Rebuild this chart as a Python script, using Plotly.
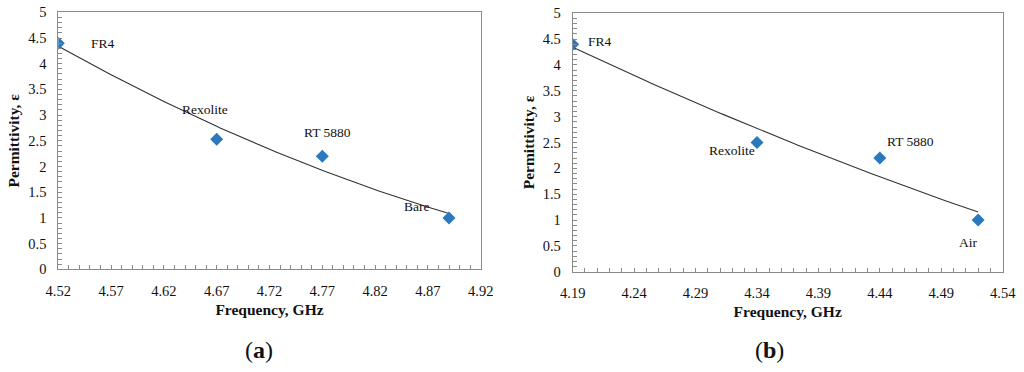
import numpy as np
import plotly.graph_objects as go
from plotly.subplots import make_subplots

# ---- data ----
materials_a = ["FR4", "Rexolite", "RT 5880", "Bare"]
freq_a = [4.52, 4.67, 4.77, 4.89]
perm_a = [4.4, 2.53, 2.2, 1.0]

materials_b = ["FR4", "Rexolite", "RT 5880", "Air"]
freq_b = [4.19, 4.34, 4.44, 4.52]
perm_b = [4.4, 2.5, 2.2, 1.0]

xticks_a = [4.52, 4.57, 4.62, 4.67, 4.72, 4.77, 4.82, 4.87, 4.92]
xticks_b = [4.19, 4.24, 4.29, 4.34, 4.39, 4.44, 4.49, 4.54]
yticks = [0, 0.5, 1, 1.5, 2, 2.5, 3, 3.5, 4, 4.5, 5]
ytick_text = ["0", "0.5", "1", "1.5", "2", "2.5", "3", "3.5", "4", "4.5", "5"]

FONT = "Liberation Serif"
MARKER = "#2A79BC"
AXIS = "#8A8A8A"

W, H = 1024, 372


def dx(px):
    return px / W


def dy(py):
    return (H - py) / H


fig = make_subplots(rows=1, cols=2)


def trend(xs, ys, deg):
    c = np.polyfit(xs, ys, deg)
    xx = np.linspace(min(xs), max(xs), 100)
    return xx, np.polyval(c, xx)


for col, (fx, py, deg) in enumerate([(freq_a, perm_a, 2), (freq_b, perm_b, 2)], start=1):
    tx, ty = trend(fx, py, deg)
    fig.add_trace(go.Scatter(x=tx, y=ty, mode="lines",
                             line=dict(color="#333333", width=1.1),
                             hoverinfo="skip", showlegend=False), row=1, col=col)
    fig.add_trace(go.Scatter(x=fx, y=py, mode="markers",
                             marker=dict(symbol="diamond", size=10, color=MARKER),
                             showlegend=False), row=1, col=col)

# label offsets (pixels) relative to each point
offs_a = [(45, 0), (-12, 30), (5, 24), (-33, 11)]
offs_b = [(27, 3), (-25, -8), (31, 17), (-10, -22)]
for names, fx, py, offs, xr, yr in [
    (materials_a, freq_a, perm_a, offs_a, "x", "y"),
    (materials_b, freq_b, perm_b, offs_b, "x2", "y2"),
]:
    for n, xv, yv, (ox, oy) in zip(names, fx, py, offs):
        fig.add_annotation(x=xv, y=yv, xref=xr, yref=yr, text=n, showarrow=False,
                           xshift=ox, yshift=oy,
                           font=dict(family=FONT, size=13.5, color="#111111"))

axis_common = dict(showline=True, linecolor=AXIS, linewidth=1, mirror=True,
                   showgrid=False, zeroline=False, automargin=False,
                   ticks="inside", ticklen=4, tickcolor=AXIS,
                   tickfont=dict(family=FONT, size=14.5, color="#111111"),
                   ticklabelstandoff=8, ticklabeloverflow="allow")

fig.update_xaxes(**axis_common)
fig.update_yaxes(**axis_common)

fig.update_xaxes(range=[4.52, 4.92], tickvals=xticks_a,
                 ticktext=[f"{v:.2f}" for v in xticks_a],
                 minor=dict(dtick=0.01, tick0=4.52, ticks="inside", ticklen=4, tickcolor=AXIS),
                 domain=[dx(58.3), dx(480.7)],
                 title=dict(text="<b>Frequency, GHz</b>", standoff=6,
                            font=dict(family=FONT, size=15.5, color="#111111")),
                 row=1, col=1)
fig.update_xaxes(range=[4.19, 4.54], tickvals=xticks_b,
                 ticktext=[f"{v:.2f}" for v in xticks_b],
                 minor=dict(dtick=0.01, tick0=4.19, ticks="inside", ticklen=4, tickcolor=AXIS),
                 domain=[dx(572.7), dx(1002.7)],
                 title=dict(text="<b>Frequency, GHz</b>", standoff=6,
                            font=dict(family=FONT, size=15.5, color="#111111")),
                 row=1, col=2)

for col, (top, bot) in [(1, (12.3, 269.3)), (2, (13.3, 271.7))]:
    fig.update_yaxes(range=[0, 5], tickvals=yticks, ticktext=ytick_text,
                     minor=dict(dtick=0.1, ticks="inside", ticklen=4, tickcolor=AXIS),
                     domain=[dy(bot), dy(top)],
                     title=dict(text="<b>Permittivity, ε</b>", standoff=4,
                                font=dict(family=FONT, size=15.5, color="#111111")),
                     row=1, col=col)

for txt, xp in [("(<b>a</b>)", 259), ("(<b>b</b>)", 769)]:
    fig.add_annotation(x=dx(xp), y=dy(350), xref="paper", yref="paper",
                       text=txt, showarrow=False, xanchor="center", yanchor="middle",
                       font=dict(family=FONT, size=24, color="#111111"))

fig.update_layout(width=W, height=H, margin=dict(l=0, r=0, t=0, b=0),
                  paper_bgcolor="white", plot_bgcolor="white",
                  font=dict(family=FONT))

fig.write_html("out.html", config={"displayModeBar": False},
               post_script="document.body.style.margin='0';document.body.style.overflow='hidden';")
